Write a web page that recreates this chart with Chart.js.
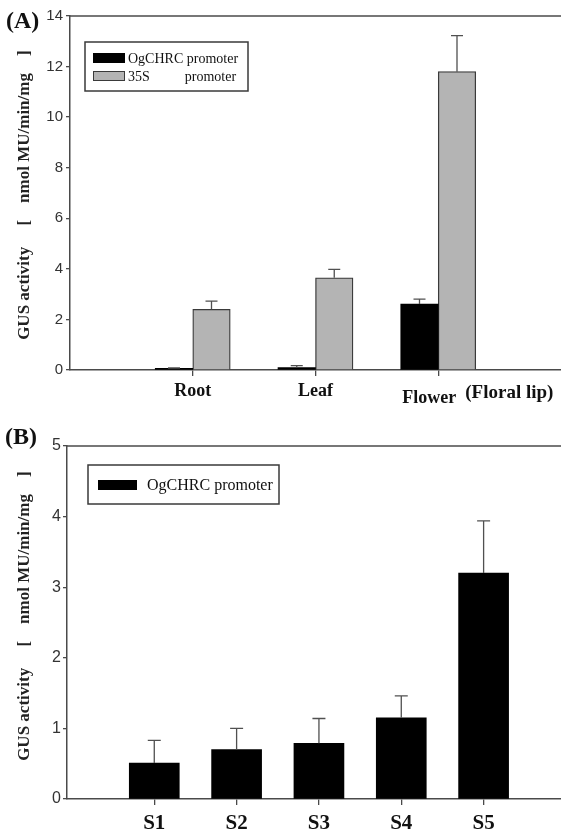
<!DOCTYPE html>
<html>
<head>
<meta charset="utf-8">
<script src="https://cdn.jsdelivr.net/npm/chart.js@4.4.1/dist/chart.umd.min.js"></script>
<style>
  html, body { margin: 0; padding: 0; background: #fff; overflow: hidden; }
  .panel { position: absolute; left: 0; width: 561px; }
  #wrapA { top: 0; height: 415px; }
  #wrapB { top: 415px; height: 422px; }
</style>
</head>
<body>
<div class="panel" id="wrapA"><canvas id="chartA" width="561" height="415"></canvas></div>
<div class="panel" id="wrapB"><canvas id="chartB" width="561" height="422"></canvas></div>
<script>
// (A) tissues
const tissues = ['Root', 'Leaf', 'Flower'];
const tissueNote = '(Floral lip)';
const tissuePos = [1, 2, 3];
const ogchrcTissue = [0.07, 0.10, 2.61];
const ogchrcTissueErr = [0.01, 0.07, 0.19];
const s35Tissue = [2.40, 3.65, 11.8];
const s35TissueErr = [0.32, 0.33, 1.42];
const yTicksA = [0, 14, 2]; // min, max, step

// (B) flower stages
const stages = ['S1', 'S2', 'S3', 'S4', 'S5'];
const stagePos = [1, 2, 3, 4, 5];
const ogchrcStage = [0.51, 0.70, 0.79, 1.15, 3.20];
const ogchrcStageErr = [0.32, 0.30, 0.35, 0.31, 0.74];
const yTicksB = [0, 5, 1];

const yTitle = 'GUS activity     [    nmol MU/min/mg    ]';
const AXIS = '#4a4a4a';
const SERIF = 'Liberation Serif';
const SANS = 'Liberation Sans';

const toXY = (pos, vals) => pos.map((p, i) => ({ x: p, y: vals[i] }));

// upward-only error bars
const errorBars = {
  id: 'errorBars',
  afterDatasetsDraw(chart, args, o) {
    const ctx = chart.ctx, y = chart.scales.y;
    ctx.save();
    ctx.strokeStyle = o.color;
    ctx.lineWidth = o.width;
    chart.data.datasets.forEach((ds, i) => {
      if (!ds.errors) return;
      chart.getDatasetMeta(i).data.forEach((bar, j) => {
        const top = y.getPixelForValue(ds.data[j].y + ds.errors[j]);
        ctx.beginPath();
        ctx.moveTo(bar.x, bar.y);
        ctx.lineTo(bar.x, top);
        ctx.moveTo(bar.x - o.cap / 2, top);
        ctx.lineTo(bar.x + o.cap / 2, top);
        ctx.stroke();
      });
    });
    ctx.restore();
  }
};

// legend in a framed box inside the plot
const boxLegend = {
  id: 'boxLegend',
  afterDraw(chart, args, o) {
    const ctx = chart.ctx;
    ctx.save();
    ctx.strokeStyle = o.border;
    ctx.lineWidth = 1.5;
    ctx.strokeRect(o.x, o.y, o.w, o.h);
    ctx.font = o.font;
    ctx.textAlign = 'left';
    ctx.textBaseline = 'alphabetic';
    chart.data.datasets.forEach((ds, i) => {
      const base = o.rows[i];
      ctx.fillStyle = ds.backgroundColor;
      ctx.fillRect(o.swatchX, base - o.swatchH, o.swatchW, o.swatchH);
      if (ds.borderWidth) {
        ctx.strokeStyle = ds.borderColor;
        ctx.lineWidth = 1;
        ctx.strokeRect(o.swatchX + 0.5, base - o.swatchH + 0.5, o.swatchW - 1, o.swatchH - 1);
      }
      ctx.fillStyle = '#111';
      ctx.fillText(ds.label, o.textX, base);
    });
    ctx.restore();
  }
};

// frame top line, panel letter and extra label text (texts kept out of the option resolver)
function extras(texts) {
  return {
    id: 'extras',
    afterDraw(chart) {
      const ctx = chart.ctx, a = chart.chartArea;
      ctx.save();
      ctx.strokeStyle = AXIS;
      ctx.lineWidth = 1.5;
      ctx.beginPath();
      ctx.moveTo(a.left, a.top);
      ctx.lineTo(a.right, a.top);
      ctx.stroke();
      ctx.fillStyle = '#111';
      ctx.textBaseline = 'alphabetic';
      texts.forEach(t => {
        ctx.font = t.font;
        ctx.textAlign = t.align || 'left';
        const px = t.at !== undefined ? chart.scales.x.getPixelForValue(t.at) + t.dx : t.left;
        ctx.fillText(t.text, px, t.base);
      });
      ctx.restore();
    }
  };
}

function baseOptions(cfg) {
  return {
    responsive: false,
    animation: false,
    layout: { padding: { top: cfg.padTop, left: 0, right: 0, bottom: 0 } },
    plugins: {
      legend: { display: false },
      tooltip: { enabled: false },
      errorBars: { color: '#505050', width: 1.3, cap: cfg.cap },
      boxLegend: cfg.legend
    },
    scales: {
      x: {
        type: 'linear',
        min: cfg.xMin,
        max: cfg.xMax,
        offset: false,
        afterBuildTicks: s => { s.ticks = cfg.xPos.map(v => ({ value: v })); },
        afterFit: s => { s.height = cfg.xHeight; },
        ticks: {
          callback: (v, i) => cfg.xLabels[i],
          font: { family: SERIF, size: cfg.xFont, weight: 'bold' },
          color: '#111',
          padding: cfg.xPad,
          maxRotation: 0,
          autoSkip: false
        },
        grid: { offset: false, drawOnChartArea: false, drawTicks: true, tickLength: 6, color: AXIS, lineWidth: 1.3 },
        border: { color: AXIS, width: 1.5 }
      },
      y: {
        min: cfg.yTicks[0],
        max: cfg.yTicks[1],
        afterFit: s => { s.width = cfg.yWidth; },
        ticks: {
          stepSize: cfg.yTicks[2],
          font: { family: SANS, size: cfg.yFont },
          color: '#333',
          padding: cfg.yPad
        },
        grid: { drawOnChartArea: false, drawTicks: true, tickLength: 4, color: AXIS, lineWidth: 1.3 },
        border: { color: AXIS, width: 1.5 },
        title: {
          display: true,
          text: cfg.yTitle,
          font: { family: SERIF, size: 17, weight: 'bold' },
          color: '#222',
          padding: { top: 14, bottom: 0 }
        }
      }
    }
  };
}

new Chart(document.getElementById('chartA'), {
  type: 'bar',
  data: {
    datasets: [
      {
        label: 'OgCHRC promoter',
        data: toXY(tissuePos, ogchrcTissue),
        errors: ogchrcTissueErr,
        backgroundColor: '#000000',
        borderWidth: 0,
        barThickness: 37.5
      },
      {
        label: '35S          promoter',
        data: toXY(tissuePos, s35Tissue),
        errors: s35TissueErr,
        backgroundColor: '#b4b4b4',
        borderColor: '#3a3a3a',
        borderWidth: 1.3,
        borderSkipped: 'bottom',
        barThickness: 37.5
      }
    ]
  },
  options: baseOptions({
    padTop: 16, xMin: 0, xMax: 4, xPos: tissuePos,
    // the third label sits left of its tick, drawn by the extras plugin
    xLabels: tissues.map((t, i) => (i === 2 ? '' : t)),
    xHeight: 45, xFont: 18, xPad: 5, yTicks: yTicksA, yWidth: 70, yFont: 15, yPad: 3,
    yTitle: yTitle + ' ', cap: 12,
    legend: { x: 85, y: 42, w: 163, h: 49, swatchX: 93, swatchW: 32, swatchH: 10,
              rows: [63, 81], textX: 128, font: '14px ' + SERIF, border: '#3a3a3a' }
  }),
  plugins: [errorBars, boxLegend, extras([
    { text: '(A)', left: 6, base: 28, font: 'bold 24px ' + SERIF },
    { text: tissues[2], at: 3, dx: -9, align: 'center', base: 403, font: 'bold 18px ' + SERIF },
    { text: tissueNote, at: 3, dx: 27, base: 398, font: 'bold 19px ' + SERIF }
  ])]
});

new Chart(document.getElementById('chartB'), {
  type: 'bar',
  data: {
    datasets: [
      {
        label: 'OgCHRC promoter',
        data: toXY(stagePos, ogchrcStage),
        errors: ogchrcStageErr,
        backgroundColor: '#000000',
        borderWidth: 0,
        barThickness: 50
      }
    ]
  },
  options: baseOptions({
    padTop: 31, xMin: -0.06, xMax: 5.94, xPos: stagePos, xLabels: stages,
    xHeight: 38, xFont: 21, xPad: 6, yTicks: yTicksB, yWidth: 67, yFont: 16, yPad: 2,
    yTitle: '   ' + yTitle, cap: 13,
    legend: { x: 88, y: 50, w: 191, h: 39, swatchX: 98, swatchW: 39, swatchH: 10,
              rows: [75], textX: 147, font: '16px ' + SERIF, border: '#3a3a3a' }
  }),
  plugins: [errorBars, boxLegend, extras([
    { text: '(B)', left: 5, base: 29, font: 'bold 24px ' + SERIF }
  ])]
});
</script>
</body>
</html>
